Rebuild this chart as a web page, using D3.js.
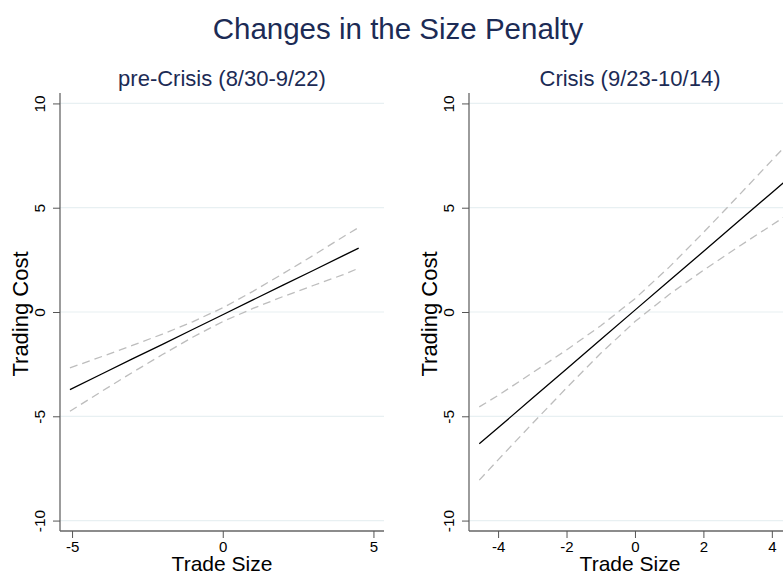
<!DOCTYPE html>
<html><head><meta charset="utf-8">
<script src="https://cdn.jsdelivr.net/npm/d3@7"></script>
<style>body{margin:0;background:#fff;} svg{display:block;font-family:"Liberation Sans",Arial,sans-serif;}</style>
</head><body>
<script>
const title = "Changes in the Size Penalty";
const panelTitles = ["pre-Crisis (8/30-9/22)", "Crisis (9/23-10/14)"];
const xLabel = "Trade Size", yLabel = "Trading Cost";
const yTicks = [-10, -5, 0, 5, 10];
const xTicksPre = [-5, 0, 5];
const xTicksCrisis = [-4, -2, 0, 2, 4];

const xPre = [-5.07, -4, -3, -2, -1, 0, 1, 2, 3, 4, 4.51];
const fitPre = [-3.72, -2.96, -2.25, -1.55, -0.84, -0.13, 0.58, 1.29, 1.99, 2.70, 3.06];
const upPre  = [-2.68, -2.13, -1.60, -1.06, -0.47, 0.20, 0.99, 1.84, 2.71, 3.61, 4.05];
const loPre  = [-4.76, -3.79, -2.90, -2.04, -1.21, -0.46, 0.17, 0.74, 1.27, 1.79, 2.10];

const xCrisis = [-4.55, -4, -3, -2, -1, 0, 1, 2, 3, 4, 4.45];
const fitCrisis = [-6.32, -5.55, -4.14, -2.73, -1.32, 0.09, 1.50, 2.90, 4.31, 5.72, 6.35];
const upCrisis  = [-4.55, -4.00, -2.92, -1.82, -0.66, 0.64, 2.15, 3.81, 5.53, 7.27, 8.05];
const loCrisis  = [-8.06, -7.09, -5.35, -3.64, -1.98, -0.46, 0.84, 2.00, 3.10, 4.17, 4.65];

const W = 783, H = 575;
const svg = d3.select("body").append("svg").attr("width", W).attr("height", H);
const navy = "#1c2b55";
const fmt = d => String(d);

svg.append("text").attr("x", 398).attr("y", 39).attr("text-anchor", "middle")
  .attr("font-size", 29.5).attr("fill", navy).text(title);

const panels = [
  {left: 60, right: 384, xdom: [-5.4, 5.35], ticks: xTicksPre, xs: xPre, fit: fitPre, up: upPre, lo: loPre, title: panelTitles[0]},
  {left: 469, right: 791, xdom: [-4.85, 4.56], ticks: xTicksCrisis, xs: xCrisis, fit: fitCrisis, up: upCrisis, lo: loCrisis, title: panelTitles[1]}
];
const plotTop = 93, plotBottom = 531;

panels.forEach(p => {
  const x = d3.scaleLinear().domain(p.xdom).range([p.left, p.right]);
  const y = d3.scaleLinear().domain([-10.5, 10.5]).range([plotBottom, plotTop]);
  const g = svg.append("g");
  g.append("text").attr("x", (p.left + p.right) / 2).attr("y", 86).attr("text-anchor", "middle")
    .attr("font-size", 22).attr("fill", navy).text(p.title);
  g.selectAll(".grid").data(yTicks).join("line")
    .attr("x1", p.left).attr("x2", p.right)
    .attr("y1", d => y(d)).attr("y2", d => y(d))
    .attr("stroke", "#e8f0f2").attr("stroke-width", 1.2);
  const ya = g.append("g").attr("transform", `translate(${p.left},0)`)
    .call(d3.axisLeft(y).tickValues(yTicks).tickSize(7).tickPadding(4).tickFormat(fmt));
  ya.select(".domain").attr("stroke", "#666").attr("stroke-width", 1.3).attr("d", `M0,${plotTop}V${plotBottom}`);
  ya.selectAll(".tick line").attr("stroke", "#555");
  ya.selectAll(".tick text").attr("font-size", 15.5).attr("fill", "#000")
    .attr("text-anchor", "middle").attr("dy", null).attr("x", null)
    .attr("transform", "translate(-21,0) rotate(-90)").attr("y", 5.5);
  const xa = g.append("g").attr("transform", `translate(0,${plotBottom})`)
    .call(d3.axisBottom(x).tickValues(p.ticks).tickSize(7).tickPadding(3).tickFormat(fmt));
  xa.select(".domain").attr("stroke", "#666").attr("stroke-width", 1.3).attr("d", `M${p.left},0H${p.right}`);
  xa.selectAll(".tick line").attr("stroke", "#555");
  xa.selectAll(".tick text").attr("font-size", 15).attr("fill", "#000");
  g.append("text").attr("x", (p.left + p.right) / 2).attr("y", 571).attr("text-anchor", "middle")
    .attr("font-size", 21).attr("fill", "#000").text(xLabel);
  g.append("text").attr("transform", `translate(${p.left - 32},314) rotate(-90)`)
    .attr("text-anchor", "middle").attr("font-size", 22).attr("fill", "#000").text(yLabel);
  const line = d3.line().x(d => x(d[0])).y(d => y(d[1]));
  [[p.up, true], [p.lo, true], [p.fit, false]].forEach(([vals, dashed]) => {
    g.append("path").datum(p.xs.map((v, i) => [v, vals[i]]))
      .attr("d", line).attr("fill", "none")
      .attr("stroke", dashed ? "#bdbdbd" : "#000")
      .attr("stroke-width", 1.3)
      .attr("stroke-dasharray", dashed ? "8,5" : null);
  });
});
</script>
</body></html>
